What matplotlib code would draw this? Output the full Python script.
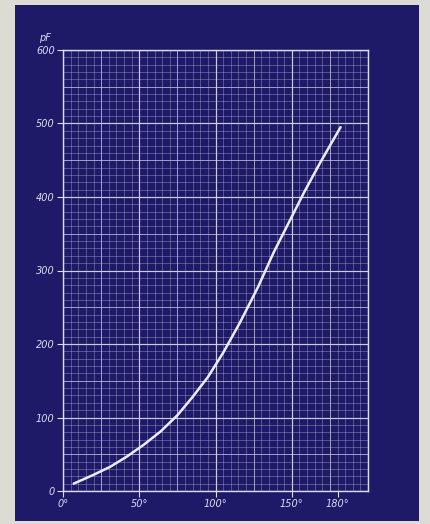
import matplotlib

matplotlib.use("Agg")
import matplotlib.pyplot as plt
from matplotlib.patches import Rectangle

# capacitance vs rotation angle
angle_deg = [7, 20, 31, 42, 53, 64, 75, 85, 95, 105, 116, 128, 138, 149, 158, 169, 182]
cap_pf = [10, 22, 33, 47, 63, 81, 103, 128, 155, 188, 229, 278, 324, 369, 406, 448, 495]

x_ticks = [0, 50, 100, 150, 180]
x_labels = ["0°", "50°", "100°", "150°", "180°"]
y_ticks = [0, 100, 200, 300, 400, 500, 600]
y_labels = ["0", "100", "200", "300", "400", "500", "600"]

paper = "#dcdcd4"
blue = "#1f1a68"
ink = "#dcdcf2"

fig = plt.figure(figsize=(4.30, 5.24), dpi=100, facecolor=paper)
fig.patches.append(Rectangle((15 / 430, 1 - 521 / 524), 404 / 430, 516 / 524,
                             transform=fig.transFigure, facecolor=blue,
                             edgecolor="none", zorder=-10))

ax = fig.add_axes([63 / 430, 1 - 491 / 524, 305 / 430, 441 / 524])
ax.set_facecolor(blue)
ax.set_xlim(0, 200)
ax.set_ylim(0, 600)

# graph-paper grid: fine, medium and heavy rulings
for step, lw, a in [(5, 0.5, 0.42), (25, 0.7, 0.55), (50, 0.9, 0.75)]:
    for v in range(0, 201, step):
        ax.axvline(v, color=ink, lw=lw, alpha=a, zorder=1)
for step, lw, a in [(10, 0.5, 0.42), (50, 0.7, 0.55), (100, 0.9, 0.75)]:
    for v in range(0, 601, step):
        ax.axhline(v, color=ink, lw=lw, alpha=a, zorder=1)

ax.plot(angle_deg, cap_pf, color="#ececf8", lw=1.8, solid_capstyle="round", zorder=3)

for s in ax.spines.values():
    s.set_color(ink)
    s.set_linewidth(1.0)

ax.set_xticks(x_ticks)
ax.set_xticklabels(x_labels)
ax.set_yticks(y_ticks)
ax.set_yticklabels(y_labels)
ax.tick_params(colors=ink, length=4, width=0.8, labelsize=7, pad=2)
for lab in ax.get_xticklabels() + ax.get_yticklabels():
    lab.set_fontstyle("italic")

ax.text(-0.04, 1.015, "pF", transform=ax.transAxes, color=ink, fontsize=7,
        fontstyle="italic", ha="right", va="bottom")

fig.savefig("out.png", dpi=100, facecolor=paper)
